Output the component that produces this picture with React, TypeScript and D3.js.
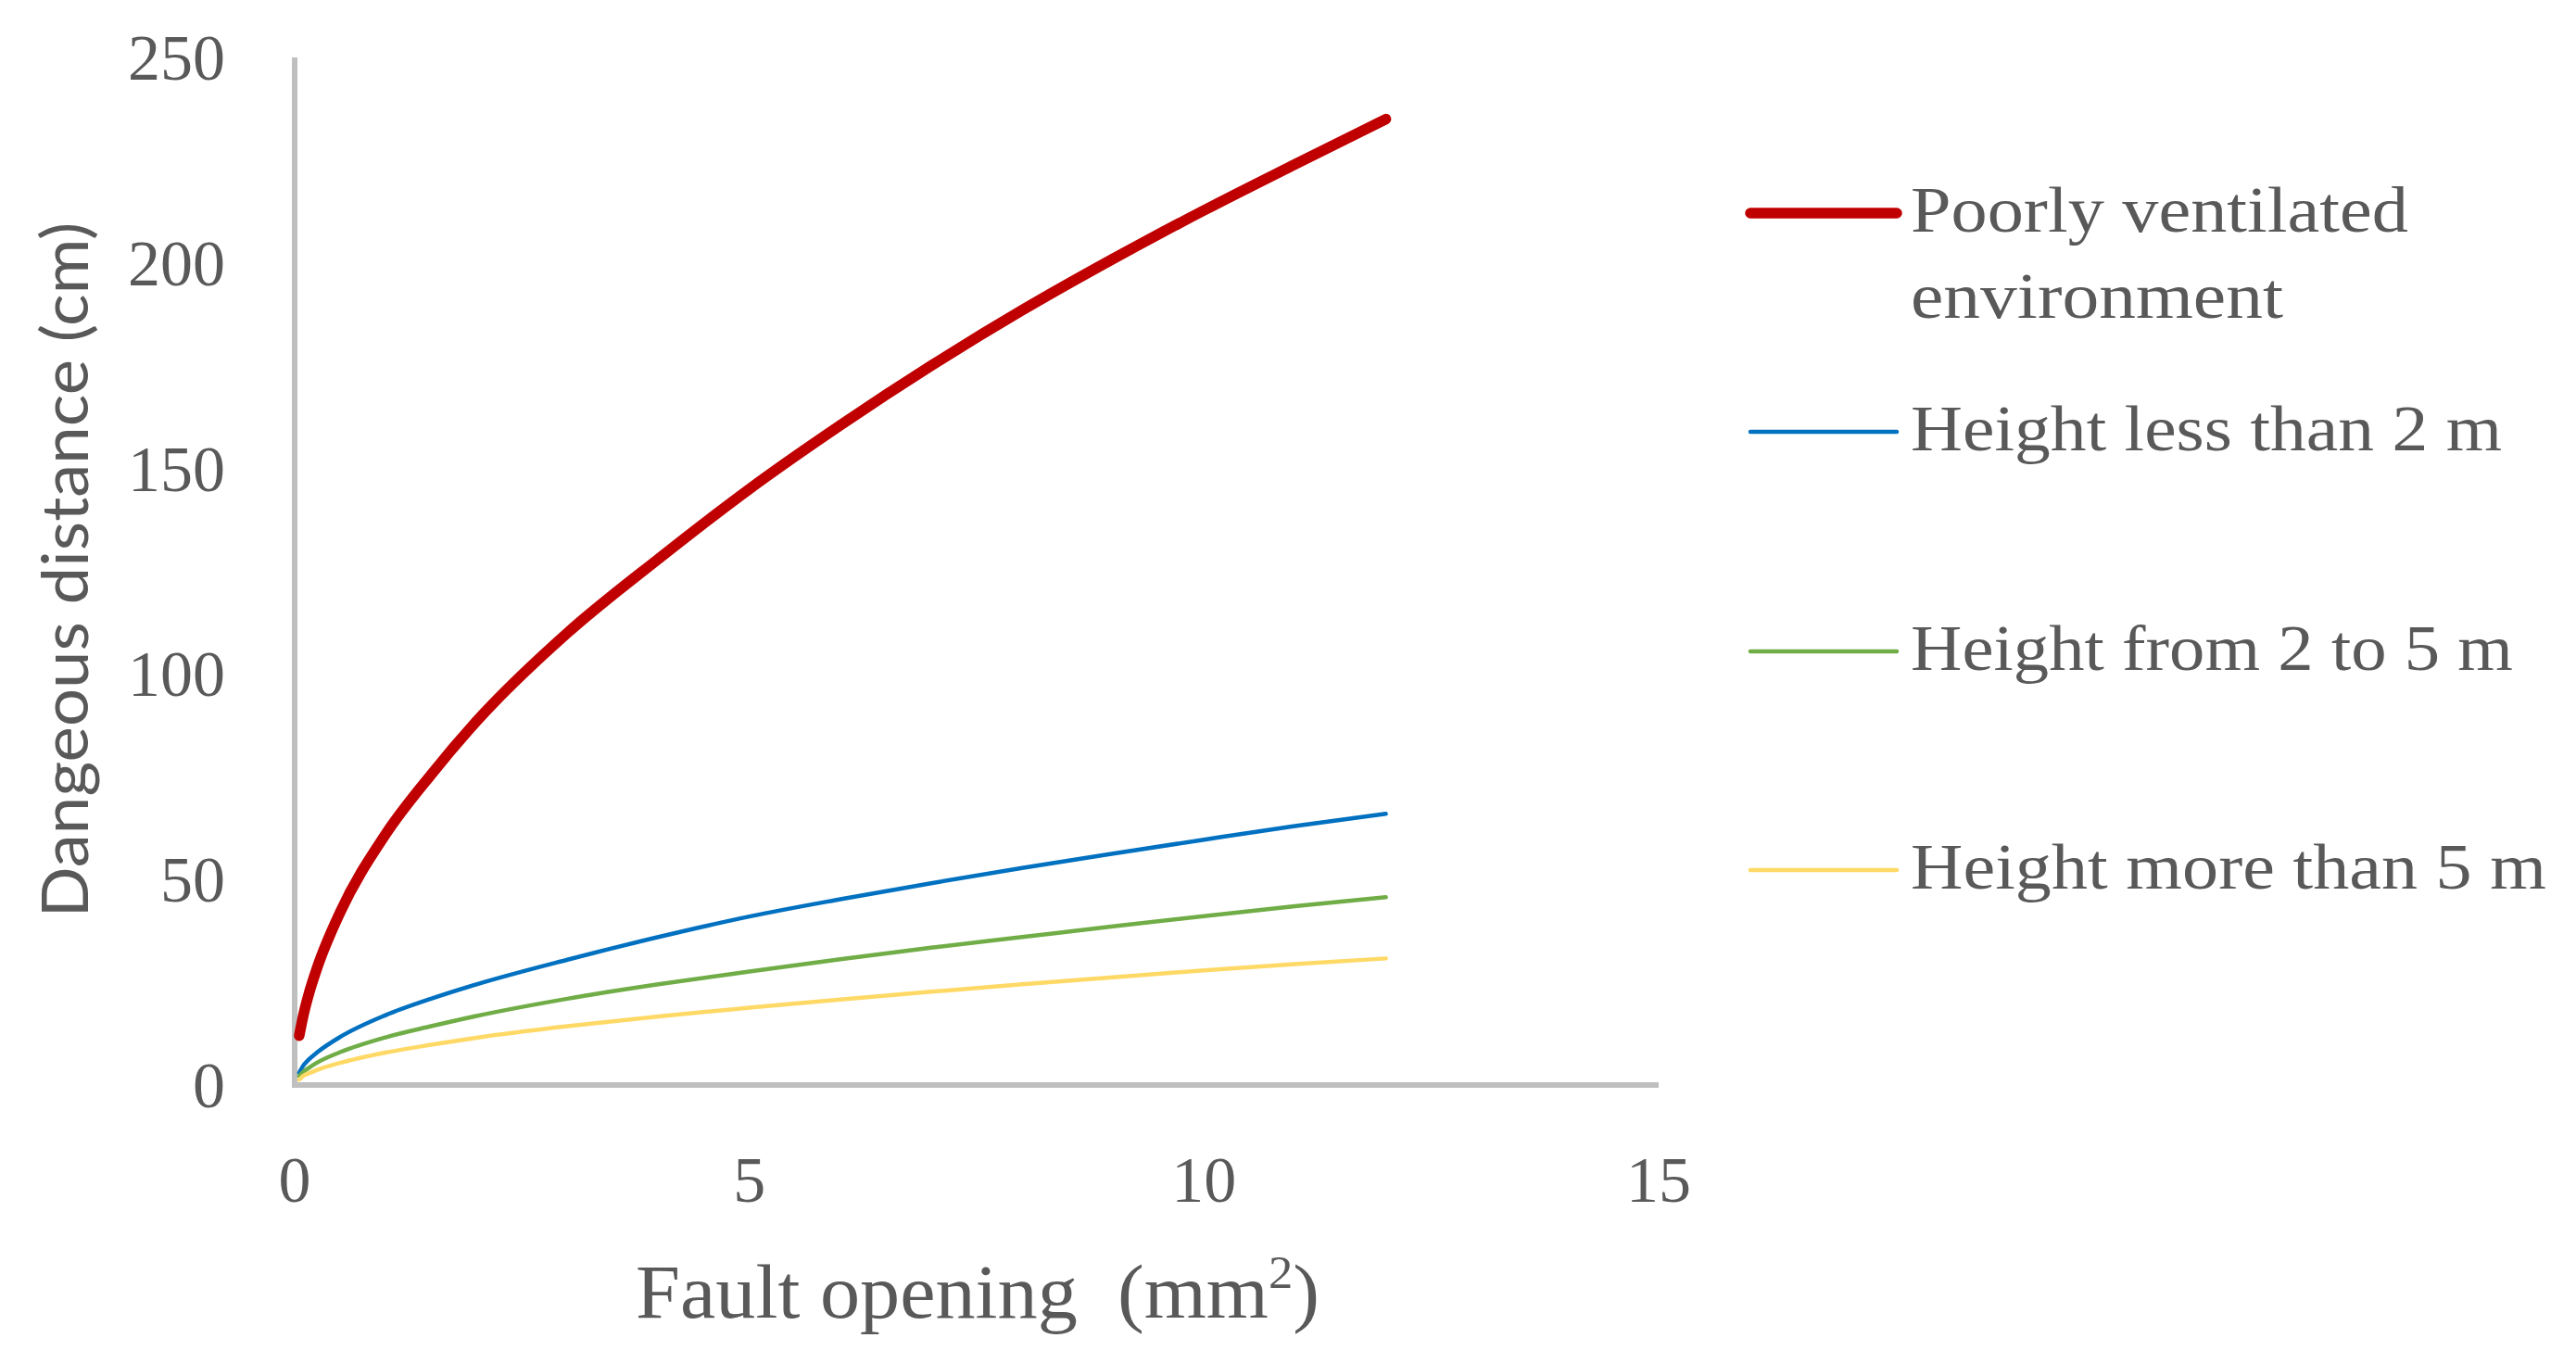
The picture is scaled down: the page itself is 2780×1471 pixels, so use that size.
import * as d3 from 'd3';

// values
const openings = [0.05, 0.1, 0.15, 0.25, 0.5, 1, 1.5, 2, 3, 4, 5, 6, 7, 8, 9, 10, 11, 12];
const poorlyVentilated = [12, 17.4, 21.7, 28.7, 42, 61, 75.5, 88.5, 110, 128, 145, 160.5, 175, 188.5, 201, 212.8, 224, 235];
const lessThan2 = [3, 4.9, 6.1, 8, 11.7, 17, 21, 24.5, 30.5, 36, 41, 45.2, 49.1, 52.8, 56.3, 59.7, 63, 66];
const from2to5 = [2.2, 3.3, 4.1, 5.5, 8, 11.6, 14.3, 16.8, 21, 24.5, 27.6, 30.6, 33.4, 36, 38.6, 41.1, 43.5, 45.7];
const moreThan5 = [1.3, 2.3, 2.8, 3.7, 5.4, 7.9, 9.8, 11.5, 14.3, 16.7, 18.8, 20.8, 22.7, 24.5, 26.2, 27.9, 29.4, 30.8];

const xTicks = [0, 5, 10, 15];
const yTicks = [0, 50, 100, 150, 200, 250];

const series = [
  { name: ['Poorly ventilated', 'environment'], values: poorlyVentilated, color: '#C00000', width: 11.5, textLen: [537, 402] },
  { name: ['Height less than 2 m'], values: lessThan2, color: '#0070C0', width: 4.5, textLen: [638] },
  { name: ['Height from 2 to 5 m'], values: from2to5, color: '#70AD47', width: 4.5, textLen: [650] },
  { name: ['Height more than 5 m'], values: moreThan5, color: '#FFD966', width: 4.5, textLen: [686] },
];
const legendY = [230, 466, 703, 939];

const W = 2780;
const H = 1471;
const left = 318;
const right = 1790;
const top = 62;
const bottom = 1171;
const grey = '#595959';
const serif = '"Liberation Serif", "DejaVu Serif", serif';

export default function App() {
  const x = d3.scaleLinear().domain([0, 15]).range([left, right]);
  const y = d3.scaleLinear().domain([0, 250]).range([bottom, top]);

  const line = d3.line<number>()
    .x((_, i) => x(openings[i]))
    .y(d => y(d))
    .curve(d3.curveMonotoneX);

  return (
    <svg width={W} height={H} style={{ position: 'absolute', left: 0, top: 0, background: '#fff' }}>
      {/* axes */}
      <line x1={left} x2={left} y1={top} y2={bottom + 3} stroke="#BFBFBF" strokeWidth={6} />
      <line x1={left - 3} x2={right} y1={bottom} y2={bottom} stroke="#BFBFBF" strokeWidth={6} />

      {yTicks.map(t => (
        <text key={t} x={243} y={y(t) + 24} textAnchor="end" fontFamily={serif} fontSize={70} fill={grey}>
          {t}
        </text>
      ))}
      {xTicks.map(t => (
        <text key={t} x={x(t)} y={1297} textAnchor="middle" fontFamily={serif} fontSize={70} fill={grey}>
          {t}
        </text>
      ))}

      <text
        transform={`translate(95, 615) rotate(-90)`}
        textAnchor="middle"
        fontFamily='Lato, "Open Sans", sans-serif'
        fontSize={70}
        fill={grey}
        textLength={751}
        lengthAdjust="spacingAndGlyphs"
      >
        Dangeous distance (cm)
      </text>

      <text x={1055} y={1422} textAnchor="middle" fontFamily={serif} fontSize={82} fill={grey}
        textLength={738} lengthAdjust="spacingAndGlyphs" style={{ whiteSpace: 'pre' }}>
        {'Fault opening  (mm'}
        <tspan fontSize={50} dy={-32}>2</tspan>
        <tspan dy={32}>)</tspan>
      </text>

      {/* curves */}
      {series.map(s => (
        <path key={s.name[0]} d={line(s.values) ?? ''} fill="none" stroke={s.color}
          strokeWidth={s.width} strokeLinecap="round" strokeLinejoin="round" />
      ))}

      {/* legend */}
      {series.map((s, i) => (
        <g key={s.name[0]}>
          <line x1={1889} x2={2047} y1={legendY[i]} y2={legendY[i]} stroke={s.color}
            strokeWidth={s.width} strokeLinecap="round" />
          {s.name.map((n, j) => (
            <text key={n} x={2062} y={legendY[i] + 20 + j * 93} fontFamily={serif} fontSize={70} fill={grey}
              textLength={s.textLen[j]} lengthAdjust="spacingAndGlyphs">
              {n}
            </text>
          ))}
        </g>
      ))}
    </svg>
  );
}
